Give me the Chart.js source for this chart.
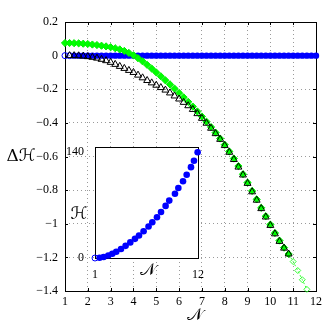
<!DOCTYPE html>
<html>
<head>
<meta charset="utf-8">
<script src="https://cdn.jsdelivr.net/npm/chart.js@4.4.0/dist/chart.umd.min.js"></script>
<style>
  body { margin: 0; background: #fff; }
  #wrap { position: relative; width: 332px; height: 332px; }
  #mainChart { position: absolute; left: 0; top: 0; }
  #insetChart { position: absolute; left: 60px; top: 130px; }
</style>
</head>
<body>
<div id="wrap">
  <canvas id="mainChart" width="332" height="332"></canvas>
  <canvas id="insetChart" width="150" height="150"></canvas>
</div>
<script>
// N grid shared by the main panel series
const gridN = [1.0, 1.2, 1.4, 1.6, 1.8, 2.0, 2.2, 2.4, 2.6, 2.8,
  3.0, 3.2, 3.4, 3.6, 3.8, 4.0, 4.2, 4.4, 4.6, 4.8,
  5.0, 5.2, 5.4, 5.6, 5.8, 6.0, 6.2, 6.4, 6.6, 6.8,
  7.0, 7.2, 7.4, 7.6, 7.8, 8.0, 8.2, 8.4, 8.6, 8.8,
  9.0, 9.2, 9.4, 9.6, 9.8, 10.0, 10.2, 10.4, 10.6, 10.8,
  11.0, 11.2, 11.4, 11.6, 11.8, 12.0];

// blue open circles (first two points)
const deltaOpenBlue = [0, 0, null, null, null, null, null, null, null, null,
  null, null, null, null, null, null, null, null, null, null,
  null, null, null, null, null, null, null, null, null, null,
  null, null, null, null, null, null, null, null, null, null,
  null, null, null, null, null, null, null, null, null, null,
  null, null, null, null, null, null];

// blue filled circles at zero
const deltaBlue = [null, null, 0, 0, 0, 0, 0, 0, 0, 0,
  0, 0, 0, 0, 0, 0, 0, 0, 0, 0,
  0, 0, 0, 0, 0, 0, 0, 0, 0, 0,
  0, 0, 0, 0, 0, 0, 0, 0, 0, 0,
  0, 0, 0, 0, 0, 0, 0, 0, 0, 0,
  0, 0, 0, 0, 0, 0];

// black open triangles
const deltaTri = [null, 0.0, 0.0, -0.001, -0.003, -0.006, -0.01, -0.015, -0.022, -0.03,
  -0.04, -0.052, -0.064, -0.076, -0.088, -0.1, -0.116, -0.132, -0.148, -0.162,
  -0.176, -0.19, -0.205, -0.222, -0.24, -0.258, -0.278, -0.298, -0.32, -0.345,
  -0.373, -0.402, -0.432, -0.464, -0.498, -0.535, -0.575, -0.618, -0.663, -0.71,
  -0.76, -0.81, -0.86, -0.91, -0.96, -1.01, -1.06, -1.105, -1.145, -1.18,
  null, null, null, null, null, null];

// green filled diamonds
const deltaGreen = [0.075, 0.075, 0.074, 0.073, 0.071, 0.069, 0.066, 0.063, 0.059, 0.055,
  0.05, 0.044, 0.037, 0.028, 0.016, 0.002, -0.015, -0.034, -0.055, -0.077,
  -0.1, -0.123, -0.147, -0.171, -0.196, -0.222, -0.248, -0.275, -0.303, -0.332,
  -0.362, -0.393, -0.425, -0.458, -0.493, -0.53, -0.57, -0.612, -0.657, -0.705,
  -0.755, -0.805, -0.855, -0.905, -0.955, -1.005, -1.055, -1.1, -1.142, -1.18,
  null, null, null, null, null, null];

// green open diamonds (tail)
const deltaGreenOpen = [null, null, null, null, null, null, null, null, null, null,
  null, null, null, null, null, null, null, null, null, null,
  null, null, null, null, null, null, null, null, null, null,
  null, null, null, null, null, null, null, null, null, null,
  null, null, null, null, null, null, null, null, null, -1.18,
  -1.225, -1.278, -1.333, -1.39, null, null];

const xTicks = [1, 2, 3, 4, 5, 6, 7, 8, 9, 10, 11, 12];
const yTicks = [0.2, 0, -0.2, -0.4, -0.6, -0.8, -1, -1.2, -1.4];

// inset: H versus N
const insetN = [1.0, 1.49, 1.92, 2.42, 2.85, 3.27, 3.78, 4.27, 4.77, 5.27, 5.7, 6.19,
  6.72, 7.12, 7.62, 8.05, 8.54, 8.93, 9.54, 9.9, 10.4, 10.79, 11.25, 11.57, 11.96];
const insetH = [0, 0.3, 1.3, 3.3, 5.5, 8.2, 11.8, 16, 20.5, 25.2, 29.6, 35.2,
  41.4, 47, 53.6, 60.6, 68.5, 75.5, 84.5, 92, 101, 109.5, 119.5, 128, 139];
const insetXTicks = [1, 12];
const insetYTicks = [0, 140];

const serif = "'Liberation Serif', 'DejaVu Serif', serif";
const mathFont = "'DejaVu Serif', 'DejaVu Sans', serif";

function pts(xs, ys) {
  const out = [];
  xs.forEach((x, i) => {
    if (ys[i] !== null && ys[i] !== undefined) out.push({x: x, y: ys[i]});
  });
  return out;
}

const framePlugin = {
  id: 'frame',
  beforeDatasetsDraw(chart, args, opts) {
    const {ctx, chartArea: a} = chart;
    ctx.save();
    ctx.strokeStyle = '#000';
    ctx.lineWidth = 1;
    ctx.strokeRect(a.left + 0.5, a.top + 0.5, a.right - a.left, a.bottom - a.top);
    if (opts.ticks) {
      const xs = chart.scales.x, ys = chart.scales.y;
      ctx.beginPath();
      xs.ticks.forEach(t => {
        const px = Math.round(xs.getPixelForValue(t.value)) + 0.5;
        ctx.moveTo(px, a.bottom); ctx.lineTo(px, a.bottom - 3);
        ctx.moveTo(px, a.top); ctx.lineTo(px, a.top + 3);
      });
      ys.ticks.forEach(t => {
        const py = Math.round(ys.getPixelForValue(t.value)) + 0.5;
        ctx.moveTo(a.left, py); ctx.lineTo(a.left + 3, py);
        ctx.moveTo(a.right, py); ctx.lineTo(a.right - 3, py);
      });
      ctx.stroke();
    }
    ctx.restore();
  }
};

const whiteAreaPlugin = {
  id: 'whiteArea',
  beforeDraw(chart) {
    const {ctx, chartArea: a} = chart;
    ctx.save();
    ctx.fillStyle = '#fff';
    ctx.fillRect(a.left, a.top, a.right - a.left, a.bottom - a.top);
    ctx.restore();
  }
};

const titlePlugin = {
  id: 'titles',
  afterDraw(chart, args, opts) {
    const ctx = chart.ctx;
    ctx.save();
    ctx.fillStyle = '#000';
    ctx.textAlign = 'center';
    ctx.textBaseline = 'middle';
    (opts.items || []).forEach(it => {
      ctx.font = it.font;
      ctx.fillText(it.text, it.x, it.y);
    });
    ctx.restore();
  }
};

new Chart(document.getElementById('mainChart'), {
  type: 'scatter',
  data: {
    datasets: [
      {
        label: 'triangles',
        data: pts(gridN, deltaTri),
        pointStyle: 'triangle',
        pointRadius: 4,
        borderColor: '#000',
        backgroundColor: 'rgba(0,0,0,0)',
        pointBorderWidth: 1,
        showLine: false
      },
      {
        label: 'green',
        data: pts(gridN, deltaGreen),
        pointStyle: 'rectRot',
        pointRadius: 3.6,
        borderColor: '#00ee00',
        backgroundColor: '#00ff00',
        pointBorderWidth: 1,
        showLine: false
      },
      {
        label: 'green open',
        data: pts(gridN, deltaGreenOpen),
        pointStyle: 'rectRot',
        pointRadius: 3,
        borderColor: '#33ff33',
        backgroundColor: 'rgba(0,0,0,0)',
        pointBorderWidth: 1,
        showLine: true,
        borderWidth: 1,
        borderDash: [2, 2]
      },
      {
        label: 'blue',
        data: pts(gridN, deltaBlue),
        pointStyle: 'circle',
        pointRadius: 3.2,
        borderColor: '#0000ff',
        backgroundColor: '#0000ff',
        pointBorderWidth: 0,
        showLine: false
      },
      {
        label: 'blue open',
        data: pts(gridN, deltaOpenBlue),
        pointStyle: 'circle',
        pointRadius: 3,
        borderColor: '#0000ff',
        backgroundColor: 'rgba(0,0,0,0)',
        pointBorderWidth: 1,
        showLine: false
      }
    ]
  },
  options: {
    responsive: false,
    animation: false,
    clip: false,
    layout: { padding: { top: 22, right: 16, left: 0, bottom: 0 } },
    plugins: {
      legend: { display: false },
      tooltip: { enabled: false },
      frame: { ticks: true },
      titles: {
        items: [
          { text: 'Δℋ', x: 21, y: 157, font: "17px " + mathFont },
          { text: '𝒩', x: 195, y: 316, font: "17px " + mathFont }
        ]
      }
    },
    scales: {
      x: {
        type: 'linear',
        min: 1,
        max: 12,
        afterFit(scale) { scale.height = 41; },
        afterBuildTicks(scale) { scale.ticks = xTicks.map(v => ({value: v})); },
        ticks: {
          color: '#000',
          padding: 4,
          font: { family: serif, size: 12 },
          maxRotation: 0,
          callback: v => String(v)
        },
        grid: { color: '#9a9a9a', drawTicks: false, lineWidth: 1 },
        border: { display: false, dash: [1, 3] }
      },
      y: {
        type: 'linear',
        min: -1.4,
        max: 0.2,
        afterFit(scale) { scale.width = 65; },
        afterBuildTicks(scale) { scale.ticks = yTicks.map(v => ({value: v})); },
        ticks: {
          color: '#000',
          padding: 7,
          font: { family: serif, size: 12 },
          callback: v => {
            const r = Math.round(v * 10) / 10;
            return r < 0 ? '\u2212' + String(-r) : String(r);
          }
        },
        grid: { color: '#9a9a9a', drawTicks: false, lineWidth: 1 },
        border: { display: false, dash: [1, 3] }
      }
    }
  },
  plugins: [framePlugin, titlePlugin]
});

new Chart(document.getElementById('insetChart'), {
  type: 'scatter',
  data: {
    datasets: [
      {
        label: 'H open',
        data: pts(insetN.slice(0, 1), insetH.slice(0, 1)),
        pointStyle: 'circle',
        pointRadius: 3,
        borderColor: '#0000ff',
        backgroundColor: 'rgba(0,0,0,0)',
        pointBorderWidth: 1,
        showLine: false
      },
      {
        label: 'H',
        data: pts(insetN.slice(1), insetH.slice(1)),
        pointStyle: 'circle',
        pointRadius: 3.3,
        borderColor: '#0000ff',
        backgroundColor: '#0000ff',
        pointBorderWidth: 0,
        showLine: false
      }
    ]
  },
  options: {
    responsive: false,
    animation: false,
    clip: false,
    layout: { padding: { top: 17, right: 12, left: 0, bottom: 0 } },
    plugins: {
      legend: { display: false },
      tooltip: { enabled: false },
      frame: { ticks: false },
      titles: {
        items: [
          { text: 'ℋ', x: 19, y: 85, font: "17px " + mathFont },
          { text: '𝒩', x: 88, y: 141, font: "17px " + mathFont }
        ]
      }
    },
    scales: {
      x: {
        type: 'linear',
        min: 1,
        max: 12,
        afterFit(scale) { scale.height = 22; },
        afterBuildTicks(scale) { scale.ticks = insetXTicks.map(v => ({value: v})); },
        ticks: {
          color: '#000',
          padding: 2,
          font: { family: serif, size: 12 },
          maxRotation: 0,
          callback: v => String(v)
        },
        grid: { display: false },
        border: { display: false }
      },
      y: {
        type: 'linear',
        min: 0,
        max: 146,
        afterFit(scale) { scale.width = 35; },
        afterBuildTicks(scale) { scale.ticks = insetYTicks.map(v => ({value: v})); },
        ticks: {
          color: '#000',
          padding: 3,
          font: { family: serif, size: 12 },
          callback: v => String(v)
        },
        grid: { display: false },
        border: { display: false }
      }
    }
  },
  plugins: [whiteAreaPlugin, framePlugin, titlePlugin]
});
</script>
</body>
</html>
